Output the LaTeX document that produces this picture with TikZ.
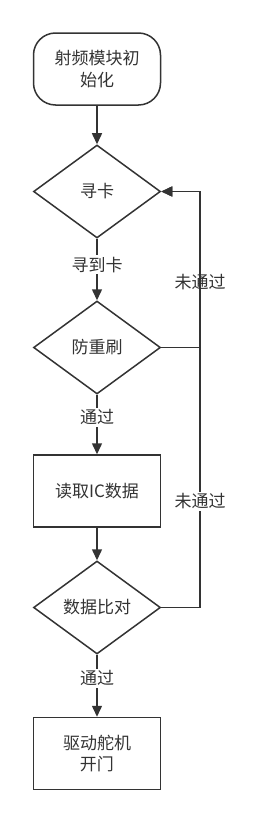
\documentclass[tikz,border=0pt]{standalone}
\usepackage{fontspec}
\setmainfont{Noto Sans CJK SC}
\usetikzlibrary{shapes.geometric,arrows.meta}

\definecolor{linegray}{HTML}{333333}

\tikzset{
  box/.style={draw=linegray,line width=1.5pt,minimum width=127pt,minimum height=72pt,inner sep=0pt,align=center,text=linegray},
  startbox/.style={box,rounded corners=22pt},
  decide/.style={diamond,draw=linegray,line width=1.5pt,minimum width=127pt,minimum height=93pt,inner sep=0pt,text=linegray},
  flow/.style={draw=linegray,line width=1.5pt,-{Triangle[length=11pt,width=10pt]}},
  lbl/.style={fill=white,inner sep=1.5pt,text=linegray}
}

\begin{document}
\begin{tikzpicture}[x=1pt,y=-1pt,font=\fontsize{17}{21.5}\selectfont]
\useasboundingbox (0,0) rectangle (260,822);

\node[startbox] (init) at (97,69) {射频模块初\\始化};
\node[decide] (find) at (97,191.5) {寻卡};
\node[decide] (anti) at (97,347.5) {防重刷};
\node[box] (read) at (97,491) {读取IC数据};
\node[decide] (cmp) at (97,607.5) {数据比对};
\node[box] (open) at (97,753.5) {驱动舵机\\开门};
\coordinate (loop) at (200,191.5);

\draw[flow] (init) -- (find);
\draw[flow] (find) -- node[lbl,pos=0.42] {寻到卡} (anti);
\draw[flow] (anti) -- node[lbl,pos=0.38] {通过} (read);
\draw[flow] (read) -- (cmp);
\draw[flow] (cmp) -- node[lbl,pos=0.38] {通过} (open);

% failed checks go back to the card search
\draw[flow] (anti.east) -- (anti.east -| loop)
    -- node[lbl,pos=0.42] {未通过} (loop) -- (find.east);
\draw[flow] (cmp.east) -- (cmp.east -| loop)
    -- node[lbl,pos=0.255] {未通过} (loop) -- (find.east);
\end{tikzpicture}
\end{document}
